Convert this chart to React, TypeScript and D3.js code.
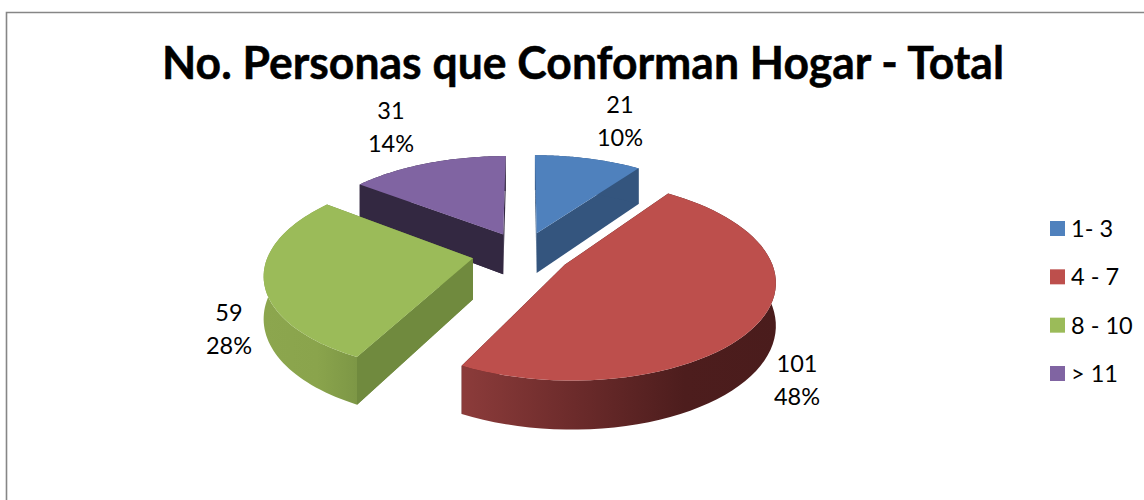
import React from "react";
import * as d3 from "d3";

const title = "No. Personas que Conforman Hogar - Total";
const categories = ["1- 3", "4 - 7", "8 - 10", "> 11"];
const values = [21, 101, 59, 31];
const percentLabels = ["10%", "48%", "28%", "14%"];
const topColors = ["#4f81bd", "#bd4f4c", "#9bbb59", "#8064a2"];
const cutColors = ["#34557e", "#4a1c1c", "#708a3e", "#332841"];
const labelCenters: [number, number][] = [[620, 121], [797, 380], [229, 329], [391, 127]];
const explosions = [46, 48, 51, 46];

const W = 1144, H = 500;
const cx = 523, cy = 253, R = 204, tilt = 0.465, persp = 0.00072, wall = 41;
const FONT = "Lato, 'Open Sans', sans-serif";

type P = [number, number];
function project(X: number, Y: number, drop = 0): P {
  const f = 1 / (1 + persp * Y);
  return [cx + X * f, cy - tilt * Y * f + drop * f];
}

const line = d3.line<P>().x((d) => d[0]).y((d) => d[1]);

export default function App() {
  const arcs = d3.pie<number>().sort(null).startAngle(0).endAngle(2 * Math.PI)(values);
  const slices = arcs.map((a, i) => {
    const mid = (a.startAngle + a.endAngle) / 2;
    const ox = explosions[i] * Math.sin(mid), oy = explosions[i] * Math.cos(mid);
    const angles = d3.range(0, 61).map((t) => a.startAngle + ((a.endAngle - a.startAngle) * t) / 60);
    const rim = (drop: number) => angles.map((t) => project(ox + R * Math.sin(t), oy + R * Math.cos(t), drop));
    const apex = (drop: number) => project(ox, oy, drop);
    const top = rim(0), bottom = rim(wall);
    return {
      i,
      top: line([apex(0), ...top])! + "Z",
      side: line([...top, ...bottom.slice().reverse()])! + "Z",
      cutStart: line([apex(0), top[0], bottom[0], apex(wall)])! + "Z",
      cutEnd: line([apex(0), top[60], bottom[60], apex(wall)])! + "Z",
    };
  });
  const order = [3, 0, 2, 1];
  return (
    <svg width={W} height={H} viewBox={`0 0 ${W} ${H}`} style={{ position: "absolute", left: 0, top: 0, display: "block", background: "#fff" }}>
      <defs>
        <linearGradient id="redWall" gradientUnits="userSpaceOnUse" x1="465" x2="778" y1="0" y2="0">
          <stop offset="0" stopColor="#8b3b3a" />
          <stop offset="0.35" stopColor="#6c2b2b" />
          <stop offset="0.7" stopColor="#4d1d1d" />
          <stop offset="1" stopColor="#4a1c1c" />
        </linearGradient>
        <linearGradient id="greenWall" gradientUnits="userSpaceOnUse" x1="264" x2="360" y1="0" y2="0">
          <stop offset="0" stopColor="#8ca64e" />
          <stop offset="0.55" stopColor="#8aa44c" />
          <stop offset="1" stopColor="#7c9645" />
        </linearGradient>
      </defs>
      <path d={`M6.5 500V12.5H1144`} fill="none" stroke="#868686" strokeWidth={1.6} />
      <text x={583} y={79} textAnchor="middle" fontFamily={FONT} fontWeight={700} fontSize={45} textLength={842} lengthAdjust="spacingAndGlyphs" fill="#000" stroke="#000" strokeWidth={0.5}>{title}</text>
      {order.map((i) => {
        const s = slices[i];
        const sideFill = i === 1 ? "url(#redWall)" : i === 2 ? "url(#greenWall)" : cutColors[i];
        return (
          <g key={i}>
            <path d={s.cutStart} fill={cutColors[i]} />
            <path d={s.cutEnd} fill={cutColors[i]} />
            <path d={s.side} fill={sideFill} />
            {i === 2 && <path d={s.cutStart} fill={cutColors[i]} />}
            {i === 3 && <path d={s.cutStart} fill={cutColors[i]} />}
            <path d={s.top} fill={topColors[i]} />
          </g>
        );
      })}
      {values.map((v, i) => (
        <g key={i} fontFamily={FONT} fontSize={23.5} fill="#000" textAnchor="middle">
          <text x={labelCenters[i][0]} y={labelCenters[i][1] - 8}>{v}</text>
          <text x={labelCenters[i][0]} y={labelCenters[i][1] + 25}>{percentLabels[i]}</text>
        </g>
      ))}
      {categories.map((c, i) => {
        const y = d3.scalePoint<number>().domain([0, 1, 2, 3]).range([221, 366])(i)!;
        return (
          <g key={c}>
            <rect x={1050} y={y} width={15} height={15} fill={topColors[i]} />
            <text x={1071} y={y + 16} fontFamily={FONT} fontSize={23.5} fill="#000">{c}</text>
          </g>
        );
      })}
    </svg>
  );
}
